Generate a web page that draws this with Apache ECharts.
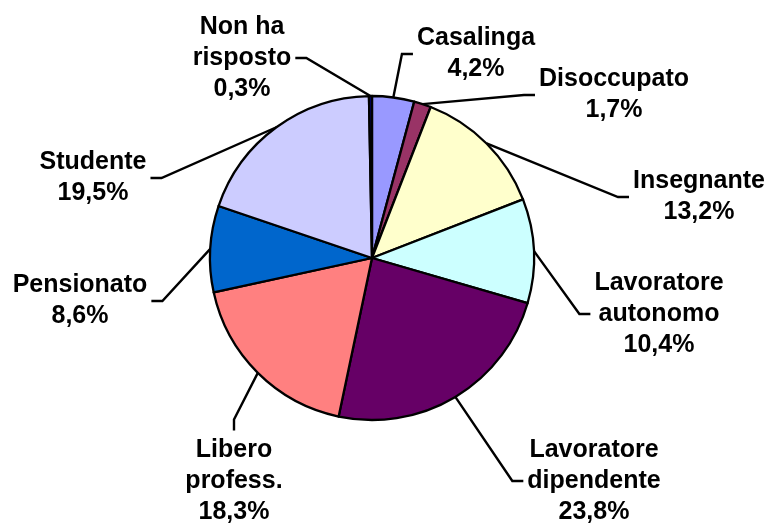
<!DOCTYPE html>
<html>
<head>
<meta charset="utf-8">
<script src="https://cdn.jsdelivr.net/npm/echarts@6/dist/echarts.min.js"></script>
<style>
  html, body { margin: 0; padding: 0; background: #ffffff; }
  #chart { width: 768px; height: 525px; }
</style>
</head>
<body>
<div id="chart"></div>
<script>
// Occupations of respondents (percent of total)
const categories = [
  'Casalinga',
  'Disoccupato',
  'Insegnante',
  'Lavoratore\nautonomo',
  'Lavoratore\ndipendente',
  'Libero\nprofess.',
  'Pensionato',
  'Studente',
  'Non ha\nrisposto'
];
const percentages = [4.2, 1.7, 13.2, 10.4, 23.8, 18.3, 8.6, 19.5, 0.3];
const sliceColors = ['#9999FF', '#993366', '#FFFFCC', '#CCFFFF', '#660066', '#FF8080', '#0066CC', '#CCCCFF', '#000080'];

// Where each label block sits (its centre) and which side the leader line joins
const labelSpots = [
  { x: 476, y: 54,  side: 'left'  },
  { x: 614, y: 95,  side: 'left'  },
  { x: 699, y: 197, side: 'left'  },
  { x: 659, y: 314, side: 'left'  },
  { x: 594, y: 481, side: 'left'  },
  { x: 234, y: 481, side: 'top'   },
  { x: 80,  y: 301, side: 'right' },
  { x: 93,  y: 178, side: 'right' },
  { x: 242, y: 58,  side: 'right' }
];

const GAP = 4;    // space between leader end and text
const TICK = 11;  // short straight piece next to the text

const chart = echarts.init(document.getElementById('chart'), null, { renderer: 'canvas' });

const option = {
  backgroundColor: '#ffffff',
  animation: false,
  series: [{
    type: 'pie',
    center: [372, 258],
    radius: 162,
    startAngle: 90,
    clockwise: true,
    avoidLabelOverlap: false,
    emphasis: { disabled: true },
    itemStyle: { borderColor: '#000000', borderWidth: 2.3 },
    label: {
      show: true,
      position: 'outside',
      overflow: 'none',
      color: '#000000',
      fontFamily: '"Liberation Sans", Arial, sans-serif',
      fontWeight: 'bold',
      fontSize: 25,
      lineHeight: 31,
      formatter: function (p) {
        return p.name + '\n' + p.value.toFixed(1).replace('.', ',') + '%';
      }
    },
    labelLine: {
      show: true,
      length: 10,
      length2: 10,
      lineStyle: { color: '#000000', width: 2.4 }
    },
    labelLayout: function (p) {
      const spot = labelSpots[p.dataIndex];
      const w = p.labelRect.width;
      const h = p.labelRect.height;
      const start = p.labelLinePoints[0];
      let end, turn;
      if (spot.side === 'left') {
        end = [spot.x - w / 2 - GAP, spot.y];
        turn = [end[0] - TICK, spot.y];
      } else if (spot.side === 'right') {
        end = [spot.x + w / 2 + GAP, spot.y];
        turn = [end[0] + TICK, spot.y];
      } else {
        end = [spot.x, spot.y - h / 2 - GAP];
        turn = [spot.x, end[1] - TICK];
      }
      return {
        x: spot.x,
        y: spot.y,
        align: 'center',
        verticalAlign: 'middle',
        labelLinePoints: [start, turn, end]
      };
    },
    data: categories.map(function (name, i) {
      return { name: name, value: percentages[i], itemStyle: { color: sliceColors[i] } };
    })
  }]
};

chart.setOption(option);
</script>
</body>
</html>
